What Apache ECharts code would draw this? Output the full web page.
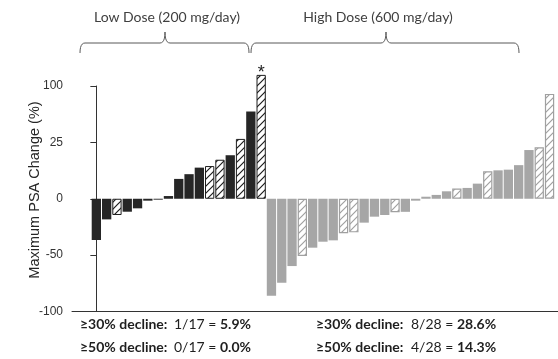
<!DOCTYPE html>
<html>
<head>
<meta charset="utf-8">
<script src="https://cdn.jsdelivr.net/npm/echarts@6/dist/echarts.min.js"></script>
<style>
  html, body { margin: 0; padding: 0; background: #fff; }
  #chart { width: 558px; height: 359px; }
</style>
</head>
<body>
<div id="chart"></div>
<script>
// Maximum PSA change (%) per patient, sorted within each dose group
const lowDose = [-36.6, -18.3, -14.4, -11.5, -8.5, -1.7, -0.8, 1.2, 8.8, 10.9, 13.8, 14.5, 17.3, 19.3, 29.6, 66, 114.8];
const highDose = [-86, -74.5, -59.7, -50.8, -43.4, -38.1, -36.9, -30.6, -29.8, -21.2, -15.9, -14.4, -12.0, -11.6,
                  -1.7, 0.9, 1.7, 3.3, 4.5, 4.8, 6.7, 12.2, 12.6, 12.9, 14.9, 21.6, 22.8, 89.5];
// 1-based positions of patients drawn with hatched bars
const lowHatched = [3, 12, 13, 15, 17];
const highHatched = [4, 8, 9, 13, 19, 22, 27, 28];
// patient flagged with an asterisk (low dose group, 1-based)
const lowStarred = [17];
const groupNames = ['Low Dose (200 mg/day)', 'High Dose (600 mg/day)'];

// Segmented y scale: 0..25 is stretched x2, 25..100 compressed; negative side linear.
function toAxis(v) {
  if (v <= 0) return v;
  if (v <= 25) return v * 2;
  return 50 + (v - 25) * 2 / 3;
}
function fromAxis(t) {
  if (t <= 0) return t;
  if (t <= 50) return t / 2;
  return 25 + (t - 50) * 1.5;
}

function hatch(color) {
  const s = 7;
  const c = document.createElement('canvas');
  c.width = s; c.height = s;
  const ctx = c.getContext('2d');
  ctx.fillStyle = '#ffffff';
  ctx.fillRect(0, 0, s, s);
  ctx.strokeStyle = color;
  ctx.lineWidth = 1.2;
  ctx.beginPath();
  ctx.moveTo(-1, s + 1); ctx.lineTo(s + 1, -1);
  ctx.moveTo(-1, 1); ctx.lineTo(1, -1);
  ctx.moveTo(s - 1, s + 1); ctx.lineTo(s + 1, s - 1);
  ctx.stroke();
  return c;
}

const DARK = '#262626';
const GREY = '#a6a6a6';

const bars = [];
lowDose.forEach((v, i) => {
  const h = lowHatched.includes(i + 1);
  const item = {
    value: [i, toAxis(v)],
    itemStyle: h
      ? { color: { image: hatch('#1e1e1e'), repeat: 'repeat' }, borderColor: '#1e1e1e', borderWidth: 1 }
      : { color: DARK }
  };
  if (lowStarred.includes(i + 1)) {
    item.label = { show: true, position: 'top', formatter: '*', fontSize: 18, distance: -7,
                   color: '#222', fontFamily: 'Liberation Sans, Arial, sans-serif' };
  }
  bars.push(item);
});
highDose.forEach((v, i) => {
  const h = highHatched.includes(i + 1);
  bars.push({
    value: [lowDose.length + i, toAxis(v)],
    itemStyle: h
      ? { color: { image: hatch('#a0a0a0'), repeat: 'repeat' }, borderColor: '#a0a0a0', borderWidth: 1.2 }
      : { color: GREY }
  });
});

function stats(arr, cut) {
  const n = arr.filter(v => v <= -cut).length;
  return { n, total: arr.length, pct: (n / arr.length * 100).toFixed(1) + '%' };
}

// Curly brace over a dose group, drawn as a polyline with rounded corners
function quad(p0, p1, p2, steps) {
  const pts = [];
  for (let k = 1; k <= steps; k++) {
    const t = k / steps, u = 1 - t;
    pts.push([u * u * p0[0] + 2 * u * t * p1[0] + t * t * p2[0], u * u * p0[1] + 2 * u * t * p1[1] + t * t * p2[1]]);
  }
  return pts;
}
function braceGraphic(x0, x1, xm) {
  const yL = 43, yE = 53, yT = 32, r = 5;
  let pts = [[x0, yE]];
  pts = pts.concat(quad([x0, yE], [x0, yL], [x0 + r, yL], 6));
  pts.push([xm - r, yL]);
  pts = pts.concat(quad([xm - r, yL], [xm, yL], [xm, yT], 6));
  pts = pts.concat(quad([xm, yT], [xm, yL], [xm + r, yL], 6));
  pts.push([x1 - r, yL]);
  pts = pts.concat(quad([x1 - r, yL], [x1, yL], [x1, yE], 6));
  return {
    type: 'polyline',
    shape: { points: pts },
    style: { fill: null, stroke: '#595959', lineWidth: 1 },
    silent: true
  };
}

const STAT_FONT = 'Lato, "Open Sans", sans-serif';
function statGraphic(x, xFrac, y, cut, arr) {
  const s = stats(arr, cut);
  return [
    { type: 'text', x: x, y: y,
      style: { text: '\u2265' + cut + '% decline:', fontFamily: STAT_FONT, fontSize: 14, fontWeight: 'bold',
               fill: '#1f1f1f', verticalAlign: 'middle' } },
    { type: 'text', x: xFrac, y: y,
      style: { text: s.n + '/' + s.total + ' = {b|' + s.pct + '}', fontFamily: STAT_FONT, fontSize: 14,
               fill: '#1f1f1f', verticalAlign: 'middle',
               rich: { b: { fontFamily: STAT_FONT, fontSize: 14, fontWeight: 'bold', fill: '#1f1f1f' } } } }
  ];
}

const chart = echarts.init(document.getElementById('chart'), null, { renderer: 'canvas' });
chart.setOption({
  animation: false,
  grid: { left: 72, right: 0, top: 86, bottom: 47.5, containLabel: false, outerBoundsMode: 'none' },
  xAxis: {
    type: 'value',
    min: -2.364, max: 44.82,
    axisLine: { show: true, onZero: false, lineStyle: { color: '#333', width: 1 } },
    axisTick: { show: false },
    axisLabel: { show: false },
    splitLine: { show: false }
  },
  yAxis: {
    type: 'value',
    min: -100, max: 100, interval: 50,
    axisLine: { show: true, lineStyle: { color: '#333', width: 1 } },
    axisTick: { show: true, length: 6, lineStyle: { color: '#333' } },
    axisLabel: {
      margin: 9, fontSize: 12, color: '#333', fontFamily: 'Liberation Sans, Arial, sans-serif',
      formatter: t => String(Math.round(fromAxis(t)))
    },
    splitLine: { show: false }
  },
  series: [{
    type: 'bar',
    data: bars,
    barWidth: 9.3,
    clip: false
  }],
  graphic: [
    { type: 'text', x: 167, y: 17,
      style: { text: groupNames[0], fontFamily: STAT_FONT, fontSize: 14, fill: '#404040', align: 'center', verticalAlign: 'middle' } },
    { type: 'text', x: 378, y: 17,
      style: { text: groupNames[1], fontFamily: STAT_FONT, fontSize: 14, fill: '#404040', align: 'center', verticalAlign: 'middle' } },
    braceGraphic(80, 249, 165),
    braceGraphic(251, 519, 386),
    { type: 'text', x: 34.5, y: 190, rotation: Math.PI / 2,
      style: { text: 'Maximum PSA Change (%)', fontFamily: 'Liberation Sans, Arial, sans-serif', fontSize: 14.5,
               fill: '#262626', align: 'center', verticalAlign: 'middle' } },
    ...statGraphic(80, 174, 324, 30, lowDose),
    ...statGraphic(80, 174, 347, 50, lowDose),
    ...statGraphic(316, 411, 324, 30, highDose),
    ...statGraphic(316, 411, 347, 50, highDose)
  ]
});
</script>
</body>
</html>
